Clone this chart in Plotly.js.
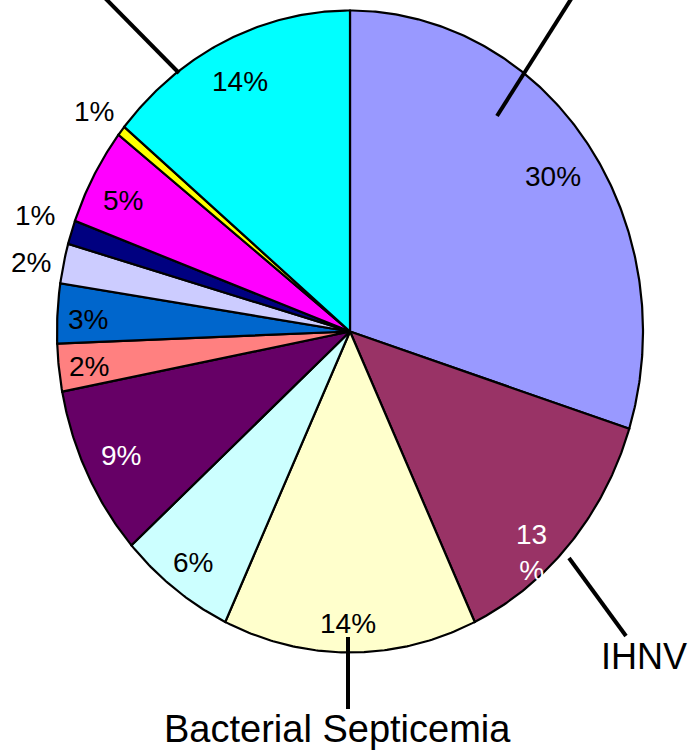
<!DOCTYPE html>
<html>
<head>
<meta charset="utf-8">
<script src="https://cdn.plot.ly/plotly-3.0.1.min.js"></script>
<style>html,body{margin:0;padding:0;background:#fff;}</style>
</head>
<body>
<div id="chart" style="width:690px;height:755px;"></div>
<script>
// ---- data (clockwise from 12 o'clock) ----
var categories = ['A','IHNV','Bacterial Septicemia','D','E','F','G','H','I','J','K','L'];
var values = [29.9, 13.1, 14.0, 6.4, 8.6, 2.4, 3.0, 2.0, 1.2, 4.9, 0.5, 14.0];
var pctLabels = ['30%','13<br>%','14%','6%','9%','2%','3%','2%','1%','5%','1%','14%'];
var colors = ['#9999FF','#993366','#FFFFCC','#CCFFFF','#660066','#FF8080','#0066CC','#CCCCFF','#000080','#FF00FF','#FFFF00','#00FFFF'];
var labelColors = ['#000','#fff','#000','#000','#fff','#000','#000','#000','#000','#000','#000','#000'];

// ---- layout geometry (pixels) ----
var W = 690, H = 755;
var cx = 350, cy = 331.5, rx = 293, ry = 321;
var labelPos = [[553,177],[531,552],[348,623],[193,562],[121,455],[89,366],[88,320],[31,262],[35,215],[123,200],[94,112],[240,82]];

function px(x){ return x / W; }
function py(y){ return 1 - y / H; }

var total = values.reduce(function(a,b){return a+b;},0);
var traces = [];
var cum = 0;
for (var i = 0; i < values.length; i++) {
  var a0 = cum / total * 2 * Math.PI;
  cum += values[i];
  var a1 = cum / total * 2 * Math.PI;
  var xs = [0], ys = [0];
  var n = Math.max(2, Math.ceil((a1 - a0) / (Math.PI / 360)));
  for (var k = 0; k <= n; k++) {
    var a = a0 + (a1 - a0) * k / n;
    xs.push(Math.sin(a));
    ys.push(Math.cos(a));
  }
  xs.push(0); ys.push(0);
  traces.push({
    type: 'scatter', mode: 'lines', x: xs, y: ys,
    fill: 'toself', fillcolor: colors[i],
    line: {color: '#000', width: 2.2},
    name: categories[i], hoverinfo: 'skip', showlegend: false
  });
}

var annotations = pctLabels.map(function(t, i){
  return {
    xref: 'paper', yref: 'paper', x: px(labelPos[i][0]), y: py(labelPos[i][1]),
    xanchor: 'center', yanchor: 'middle', text: t, showarrow: false,
    font: {family: 'Liberation Sans, Arial, sans-serif', size: 28, color: labelColors[i]}
  };
});
annotations.push({
  xref: 'paper', yref: 'paper', x: px(337), y: py(729), xanchor: 'center', yanchor: 'middle',
  text: categories[2], showarrow: false,
  font: {family: 'Liberation Sans, Arial, sans-serif', size: 38, color: '#000'}
});
annotations.push({
  xref: 'paper', yref: 'paper', x: px(644), y: py(656), xanchor: 'center', yanchor: 'middle',
  text: categories[1], showarrow: false,
  font: {family: 'Liberation Sans, Arial, sans-serif', size: 36, color: '#000'}
});

function seg(x0,y0,x1,y1){
  return {type:'line', xref:'paper', yref:'paper', x0:px(x0), y0:py(y0), x1:px(x1), y1:py(y1),
          line:{color:'#000', width:4}};
}
var shapes = [
  seg(179, 73, 103, -4),
  seg(497, 116, 573, -4),
  seg(569, 558, 626, 636),
  seg(348, 637, 348, 709)
];

var layout = {
  width: W, height: H, autosize: false,
  margin: {l:0, r:0, t:0, b:0},
  paper_bgcolor: '#fff', plot_bgcolor: '#fff',
  xaxis: {range: [-cx/rx, (W-cx)/rx], visible: false, fixedrange: true},
  yaxis: {range: [(cy-H)/ry, cy/ry], visible: false, fixedrange: true},
  showlegend: false,
  annotations: annotations,
  shapes: shapes
};

Plotly.newPlot('chart', traces, layout, {displayModeBar: false, staticPlot: true});
</script>
</body>
</html>
